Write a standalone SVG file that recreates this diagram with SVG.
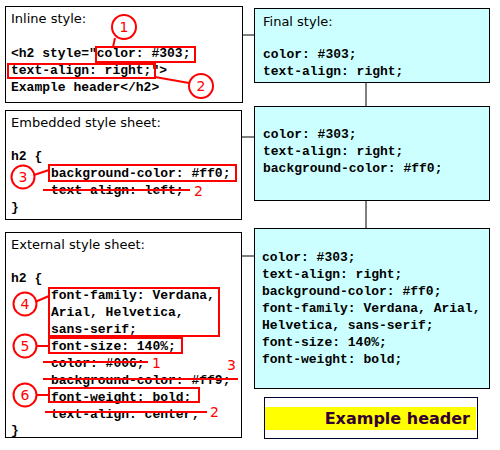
<svg xmlns="http://www.w3.org/2000/svg" width="500" height="450" viewBox="0 0 500 450">
<style>
.box{fill:#fff;stroke:#000;stroke-width:1}
.rbox{fill:#ccffff;stroke:#000;stroke-width:1}
.title{font-family:"DejaVu Sans",Verdana,sans-serif;font-size:13px;fill:#000}
.code{font-family:"Liberation Mono","Courier New",monospace;font-size:13px;font-weight:bold;fill:#000}
.hl{fill:none;stroke:#f00;stroke-width:2}
.ann{fill:#fff;stroke:#f00;stroke-width:2}
.num{font-family:"DejaVu Sans",Arial,sans-serif;font-size:14px;fill:#f00;text-anchor:middle}
.numf{font-family:"DejaVu Sans",Arial,sans-serif;font-size:14px;fill:#f00}
.con{stroke:#000;stroke-width:1;fill:none}
</style>
<rect width="500" height="450" fill="#fff"/>
<g id="connectors">
<line class="con" x1="243" y1="35" x2="254" y2="35"/>
<line class="con" x1="242" y1="137" x2="254" y2="137"/>
<line class="con" x1="242" y1="256" x2="254" y2="256"/>
<line class="con" x1="366" y1="82" x2="366" y2="106"/>
<line class="con" x1="366" y1="200" x2="366" y2="228"/>
</g>
<g id="inline">
<rect class="box" x="5.5" y="6.5" width="237" height="96"/>
<text class="title" x="11" y="23">Inline style:</text>
<text class="code" x="11" y="57" xml:space="preserve">&lt;h2 style="color: #303;</text>
<text class="code" x="11" y="74">text-align: right;"&gt;</text>
<text class="code" x="11" y="91">Example header&lt;/h2&gt;</text>
<rect class="hl" x="96" y="47" width="99" height="15"/>
<rect class="hl" x="8" y="64" width="147" height="14"/>
<line class="hl" x1="115" y1="38" x2="113" y2="47"/>
<line class="hl" x1="155" y1="77" x2="189" y2="83"/>
<circle class="ann" cx="124" cy="27" r="12"/>
<text class="num" x="124" y="32">1</text>
<circle class="ann" cx="201" cy="86" r="12"/>
<text class="num" x="201" y="91">2</text>
</g>
<g id="embedded">
<rect class="box" x="5.5" y="110.5" width="236" height="109"/>
<text class="title" x="11" y="127">Embedded style sheet:</text>
<text class="code" x="11" y="160">h2 {</text>
<text class="code" x="51" y="177">background-color: #ff0;</text>
<text class="code" x="51" y="194">text-align: left;</text>
<text class="code" x="11" y="211">}</text>
<rect class="hl" x="49" y="165" width="187" height="16"/>
<line class="hl" x1="43" y1="190" x2="190" y2="190"/>
<text class="numf" x="194" y="196">2</text>
<line class="hl" x1="34" y1="175" x2="49" y2="170"/>
<circle class="ann" cx="23" cy="177" r="11.5"/>
<text class="num" x="23" y="182">3</text>
</g>
<g id="external">
<rect class="box" x="5.5" y="232.5" width="236" height="205"/>
<text class="title" x="11" y="249">External style sheet:</text>
<text class="code" x="11" y="282">h2 {</text>
<text class="code" x="51" y="299">font-family: Verdana,</text>
<text class="code" x="51" y="316">Arial, Helvetica,</text>
<text class="code" x="51" y="333">sans-serif;</text>
<text class="code" x="51" y="350">font-size: 140%;</text>
<text class="code" x="51" y="367">color: #006;</text>
<text class="code" x="51" y="384">background-color: #ff9;</text>
<text class="code" x="51" y="401">font-weight: bold;</text>
<text class="code" x="51" y="418">text-align: center;</text>
<text class="code" x="11" y="434">}</text>
<rect class="hl" x="49" y="288" width="170" height="48"/>
<rect class="hl" x="49" y="338" width="133" height="15"/>
<rect class="hl" x="49" y="388" width="150" height="14"/>
<line class="hl" x1="43" y1="362" x2="148" y2="362"/>
<line class="hl" x1="43" y1="379" x2="238" y2="379"/>
<line class="hl" x1="45" y1="412" x2="207" y2="412"/>
<text class="numf" x="152" y="368">1</text>
<text class="numf" x="227" y="370">3</text>
<text class="numf" x="210" y="417">2</text>
<line class="hl" x1="35" y1="302" x2="49" y2="296"/>
<line class="hl" x1="36" y1="346" x2="49" y2="346"/>
<line class="hl" x1="36" y1="395" x2="49" y2="395"/>
<circle class="ann" cx="25" cy="304" r="11.5"/>
<text class="num" x="25" y="309">4</text>
<circle class="ann" cx="25" cy="346" r="11.5"/>
<text class="num" x="25" y="351">5</text>
<circle class="ann" cx="25" cy="395" r="11.5"/>
<text class="num" x="25" y="400">6</text>
</g>
<g id="final">
<rect class="rbox" x="254.5" y="8.5" width="235" height="74"/>
<text class="title" x="263" y="26">Final style:</text>
<text class="code" x="263" y="58">color: #303;</text>
<text class="code" x="263" y="75">text-align: right;</text>
</g>
<g id="mid">
<rect class="rbox" x="254.5" y="106.5" width="235" height="94"/>
<text class="code" x="263" y="138">color: #303;</text>
<text class="code" x="263" y="155">text-align: right;</text>
<text class="code" x="263" y="172">background-color: #ff0;</text>
</g>
<g id="base">
<rect class="rbox" x="254.5" y="228.5" width="235" height="160"/>
<text class="code" x="262" y="261">color: #303;</text>
<text class="code" x="262" y="278">text-align: right;</text>
<text class="code" x="262" y="295">background-color: #ff0;</text>
<text class="code" x="262" y="312">font-family: Verdana, Arial,</text>
<text class="code" x="262" y="329">Helvetica, sans-serif;</text>
<text class="code" x="262" y="346">font-size: 140%;</text>
<text class="code" x="262" y="363">font-weight: bold;</text>
</g>
<g id="example">
<rect x="264.5" y="397.5" width="213" height="41" fill="#fff" stroke="#000033" stroke-width="1"/>
<rect x="265" y="407" width="211" height="23" fill="#ffff00"/>
<text x="470" y="424" text-anchor="end" font-family="'DejaVu Sans',Verdana,sans-serif" font-size="16" font-weight="bold" fill="#330033">Example header</text>
</g>
</svg>
